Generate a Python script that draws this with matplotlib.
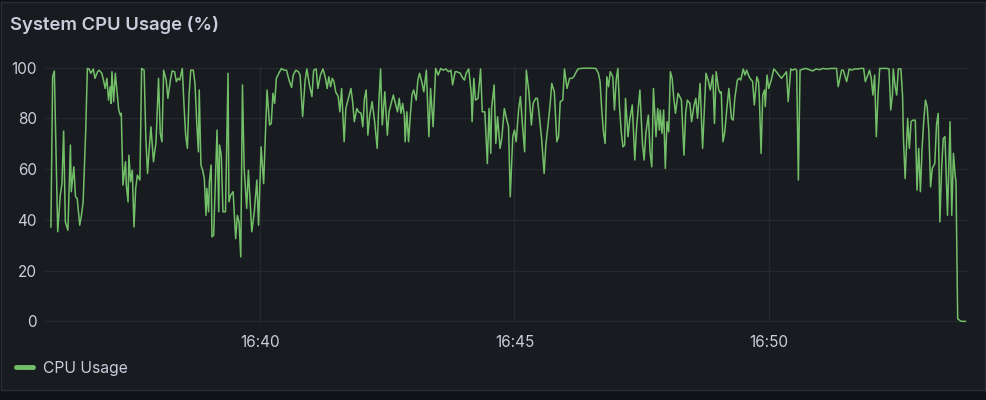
import matplotlib
matplotlib.use("Agg")
import matplotlib.pyplot as plt
from matplotlib.patches import Rectangle
from matplotlib.lines import Line2D
from matplotlib.ticker import FuncFormatter, FixedLocator

plt.rcParams['font.family'] = ['Inter', 'DejaVu Sans']

# ---------------- data ----------------
TITLE = "System CPU Usage (%)"
SERIES_NAME = "CPU Usage"
BASE_HOUR, BASE_MIN = 16, 35          # seconds below are counted from 16:35:00

seconds = [
    53, 55, 57, 61, 64, 66, 68, 70, 73, 76,
    77, 80, 82, 84, 87, 89, 91, 94, 96, 98,
    100, 103, 105, 108, 110, 113, 115, 117, 119, 121,
    123, 124, 125, 127, 129, 131, 133, 135, 136, 138,
    141, 142, 144, 145, 147, 149, 151, 153, 155, 158,
    160, 163, 165, 167, 169, 171, 174, 177, 180, 182,
    184, 186, 189, 191, 194, 196, 199, 201, 203, 205,
    208, 210, 212, 214, 216, 218, 221, 223, 225, 227,
    228, 230, 232, 234, 236, 237, 239, 240, 242, 243,
    245, 249, 251, 252, 254, 256, 259, 262, 263, 265,
    268, 271, 273, 275, 277, 279, 281, 284, 286, 288,
    290, 293, 296, 298,
    301, 304, 308, 311, 313, 315, 317, 319, 322, 325,
    328, 331, 334, 337, 339, 342, 345, 347, 350, 353,
    355, 358, 361, 363, 366, 368, 371, 374, 377, 379,
    381, 383, 385, 387, 389, 392, 394, 396, 399, 401,
    404, 407, 409, 411, 414, 416, 419, 421, 423, 425,
    427, 429, 432, 435, 438, 440, 442, 444, 447, 450,
    452, 454, 457, 459, 462, 464, 466, 468, 470, 471,
    473, 475, 477, 479, 481, 484, 486, 488, 491, 493,
    496, 499, 501, 504, 507, 510, 513, 516, 519, 522,
    525, 527, 530, 532, 536, 538, 541, 543, 546, 549,
    550, 552, 554, 557, 560, 562, 565, 568, 570, 572,
    573, 576, 578, 580, 583, 585, 588, 591, 593, 595,
    598, 600, 602, 605, 607, 609, 612, 614, 617, 620,
    622, 625, 627, 629, 632, 635, 637, 640, 642, 644,
    647, 650, 652, 654, 657, 659, 662, 665, 668, 670,
    672, 675, 678, 684, 690, 696, 699, 701, 703, 705,
    707, 709, 711, 713, 716, 718, 720, 722, 724, 726,
    728, 730, 731, 734, 736, 739, 742, 744, 746, 748,
    751, 753, 755, 758, 760, 762, 764, 767, 769, 771,
    772, 774, 776, 778, 780, 782, 784, 786, 788, 790,
    793, 795, 797, 800, 802, 804, 807, 809, 812, 814,
    816, 819, 822, 824, 826, 829, 831, 834, 836, 838,
    841, 843,
    844, 846, 848, 851, 853, 856, 858, 860, 863, 865,
    867, 870, 872, 874, 876, 878, 881, 883, 886, 888,
    889, 891, 893, 895, 896, 898, 900, 903, 906, 909,
    912, 915, 918, 921, 923, 926, 928, 931, 933, 935,
    937, 941, 944, 948, 952, 956, 960, 964, 968, 974,
    980, 982, 984, 986, 988, 992, 995, 998, 1001, 1005,
    1009, 1012, 1014, 1017, 1019, 1021, 1023, 1025, 1027, 1029,
    1031, 1035, 1039, 1042, 1044, 1046, 1047, 1049, 1051, 1053,
    1056, 1058, 1059, 1061, 1064, 1066, 1068, 1070, 1073, 1075,
    1077, 1079, 1081, 1083, 1085, 1087, 1089, 1091, 1093, 1096,
    1098, 1100, 1102, 1104, 1106, 1108, 1111, 1114, 1116, 1118,
    1120, 1121, 1123, 1127, 1132,
]

cpu = [
    37.2, 96.4, 98.7, 35.3, 49.7, 54.3, 75.0, 39.2, 35.9, 69.5,
    51.1, 60.9, 49.1, 48.4, 37.9, 41.8, 47.1, 74.7, 99.7, 99.5,
    97.8, 99.5, 95.8, 98.4, 99.0, 97.8, 95.1, 91.8, 95.8, 87.2,
    92.5, 85.9, 98.4, 86.6, 97.8, 90.5, 83.3, 81.3, 82.0, 53.7,
    62.9, 53.7, 47.1, 65.5, 55.0, 59.6, 37.2, 52.4, 57.6, 55.7,
    99.7, 99.0, 72.1, 58.3, 68.2, 76.7, 62.9, 70.8, 95.8, 74.1,
    70.8, 99.0, 95.1, 87.9, 95.1, 98.7, 98.4, 94.5, 95.8, 95.1,
    99.7, 85.3, 73.4, 68.2, 89.2, 99.0, 99.0, 93.8, 78.7, 66.8,
    91.2, 61.6, 59.6, 56.3, 41.8, 52.4, 43.2, 55.0, 61.6, 33.3,
    33.9, 75.4, 43.2, 69.5, 65.5, 43.2, 43.2, 97.8, 47.1, 49.7,
    51.1, 32.6, 41.8, 39.2, 25.4, 93.2, 60.3, 44.5, 59.6, 47.1,
    35.3, 43.2, 55.7, 37.9,
    68.8, 54.3, 91.2, 77.4, 78.0, 89.9, 85.9, 95.8, 97.8, 99.7,
    99.0, 99.0, 95.1, 92.2, 97.1, 99.0, 98.4, 97.1, 80.7, 95.1,
    99.5, 93.2, 88.6, 99.0, 99.5, 91.8, 97.1, 99.5, 95.8, 91.8,
    96.4, 92.5, 95.8, 94.5, 90.5, 88.6, 82.6, 91.8, 70.8, 83.9,
    87.9, 91.8, 86.6, 78.7, 83.9, 82.6, 82.0, 76.7, 87.9, 91.2,
    73.4, 80.7, 86.6, 78.7, 68.2, 86.6, 99.5, 77.4, 90.5, 73.4,
    82.6, 85.3, 89.2, 86.6, 82.6, 87.9, 82.0, 85.9, 81.3, 70.8,
    82.6, 70.8, 80.7, 89.2, 91.2, 87.2, 95.1, 97.8, 93.8, 90.5,
    99.0, 72.8, 91.8, 76.7, 99.7, 97.1, 99.7, 99.0, 99.5, 98.4,
    99.0, 93.2, 98.4, 98.4, 97.8, 96.4, 95.1, 97.8, 99.5, 89.9,
    78.7, 95.8, 87.2, 87.9, 99.5, 82.6, 82.6, 62.2, 83.9, 66.2,
    83.9, 93.2, 70.1, 80.7, 68.2, 72.1, 83.9, 79.3, 76.7, 49.1,
    72.8, 75.4, 70.8, 83.9, 88.6, 79.3, 66.8, 99.0, 90.5, 77.4,
    85.9, 87.9, 87.9, 82.0, 72.1, 58.3, 69.5, 78.7, 85.3, 93.8,
    90.5, 70.8, 72.8, 86.6, 87.2, 99.5, 91.8, 95.8, 95.8, 96.4,
    97.8, 99.5, 99.7, 99.8, 99.8, 99.7, 97.8, 94.5, 83.3, 74.7,
    70.1, 96.4, 92.5, 98.4, 96.4, 83.3, 95.1, 99.7, 83.9, 74.7,
    68.8, 69.5, 87.9, 72.8, 79.3, 85.3, 63.6, 76.0, 83.9, 91.2,
    70.1, 63.6, 74.1, 81.3, 66.8, 60.9, 91.8, 72.8, 83.9, 75.4,
    83.3, 74.1, 83.3, 60.3, 78.7, 74.7, 98.4, 95.8, 87.9, 82.0,
    89.9, 88.6, 87.2, 65.5, 82.0, 87.2, 85.9, 78.7, 85.3, 87.9,
    80.0, 93.8, 68.2, 82.6, 97.8, 94.5, 91.2, 97.1, 78.0, 98.4,
    91.2, 89.9,
    90.5, 70.8, 74.1, 85.3, 91.8, 80.0, 79.3, 87.9, 95.1, 95.8,
    95.1, 99.5, 97.1, 99.0, 97.1, 95.8, 94.5, 85.3, 96.4, 94.5,
    87.9, 66.2, 89.2, 91.2, 84.6, 97.1, 91.8, 95.1, 99.5, 98.4,
    97.1, 95.8, 97.1, 98.4, 86.6, 99.5, 99.0, 99.5, 99.0, 55.7,
    99.0, 99.5, 99.7, 99.2, 98.7, 99.5, 99.2, 99.7, 99.5, 99.7,
    99.7, 92.5, 95.8, 99.0, 99.0, 94.5, 99.5, 99.0, 99.5, 99.5,
    99.7, 99.7, 94.5, 97.1, 99.0, 95.8, 89.2, 97.1, 72.8, 89.2,
    99.7, 99.7, 99.7, 99.5, 83.3, 89.2, 99.5, 93.2, 89.2, 99.5,
    99.5, 88.6, 72.1, 56.3, 80.0, 68.2, 78.7, 79.3, 79.3, 51.7,
    68.2, 51.1, 68.2, 79.3, 87.2, 84.6, 74.7, 53.0, 60.3, 62.2,
    77.4, 82.0, 39.2, 60.3, 72.1, 72.8, 41.8, 78.7, 41.8, 66.2,
    57.6, 55.0, 1.0, 0.0, 0.0,
]

x_ticks = [300, 600, 900]          # 16:40, 16:45, 16:50
y_ticks = [0, 20, 40, 60, 80, 100]
x_range = (46, 1134)
y_range = (-0.5, 100.5)

assert len(seconds) == len(cpu)

# ---------------- style ----------------
W, H = 987, 400
PAGE_BG = "#111217"
PANEL_BG = "#181b1f"
PANEL_EDGE = "#2a2d33"
GRID = "#26292e"
TEXT = "#ccccdc"
LINE = "#73bf69"

fig = plt.figure(figsize=(W / 100, H / 100), dpi=100, facecolor=PAGE_BG)

panel = Rectangle((0.5 / W, (H - 390) / H), 985 / W, 388 / H,
                  transform=fig.transFigure, facecolor=PANEL_BG,
                  edgecolor=PANEL_EDGE, linewidth=1.0, zorder=-10)
fig.patches.append(panel)

ax = fig.add_axes([45 / W, (H - 322.6) / H, 922 / W, (322.6 - 66.4) / H])
ax.set_zorder(5)
ax.set_facecolor("none")
ax.patch.set_alpha(0)
for s in ax.spines.values():
    s.set_visible(False)

ax.plot(seconds, cpu, color=LINE, linewidth=1.1, solid_joinstyle="round",
        label=SERIES_NAME, zorder=3)

ax.set_xlim(*x_range)
ax.set_ylim(*y_range)
ax.xaxis.set_major_locator(FixedLocator(x_ticks))
ax.yaxis.set_major_locator(FixedLocator(y_ticks))


def fmt_time(v, pos=None):
    total = BASE_HOUR * 3600 + BASE_MIN * 60 + int(round(v))
    return f"{total // 3600:02d}:{(total % 3600) // 60:02d}"


ax.xaxis.set_major_formatter(FuncFormatter(fmt_time))
ax.yaxis.set_major_formatter(FuncFormatter(lambda v, p: f"{v:g}"))
ax.grid(True, color=GRID, linewidth=0.9, zorder=0)
ax.tick_params(axis="both", length=0, colors=TEXT, labelsize=11)
ax.tick_params(axis="y", pad=6)
ax.tick_params(axis="x", pad=9)

fig.text(10 / W, (H - 25) / H, TITLE, color=TEXT, fontsize=13.3,
         fontweight="semibold", va="center", ha="left")

handle = Line2D([], [], color=LINE, linewidth=3.5, solid_capstyle="round")
fig.legend([handle], [SERIES_NAME], loc="center left",
           bbox_to_anchor=(16 / W, (H - 368) / H), frameon=False,
           handlelength=1.1, handletextpad=0.6, fontsize=11.3,
           labelcolor=TEXT, borderaxespad=0, borderpad=0)

fig.savefig("out.png", dpi=100, facecolor=PAGE_BG)
